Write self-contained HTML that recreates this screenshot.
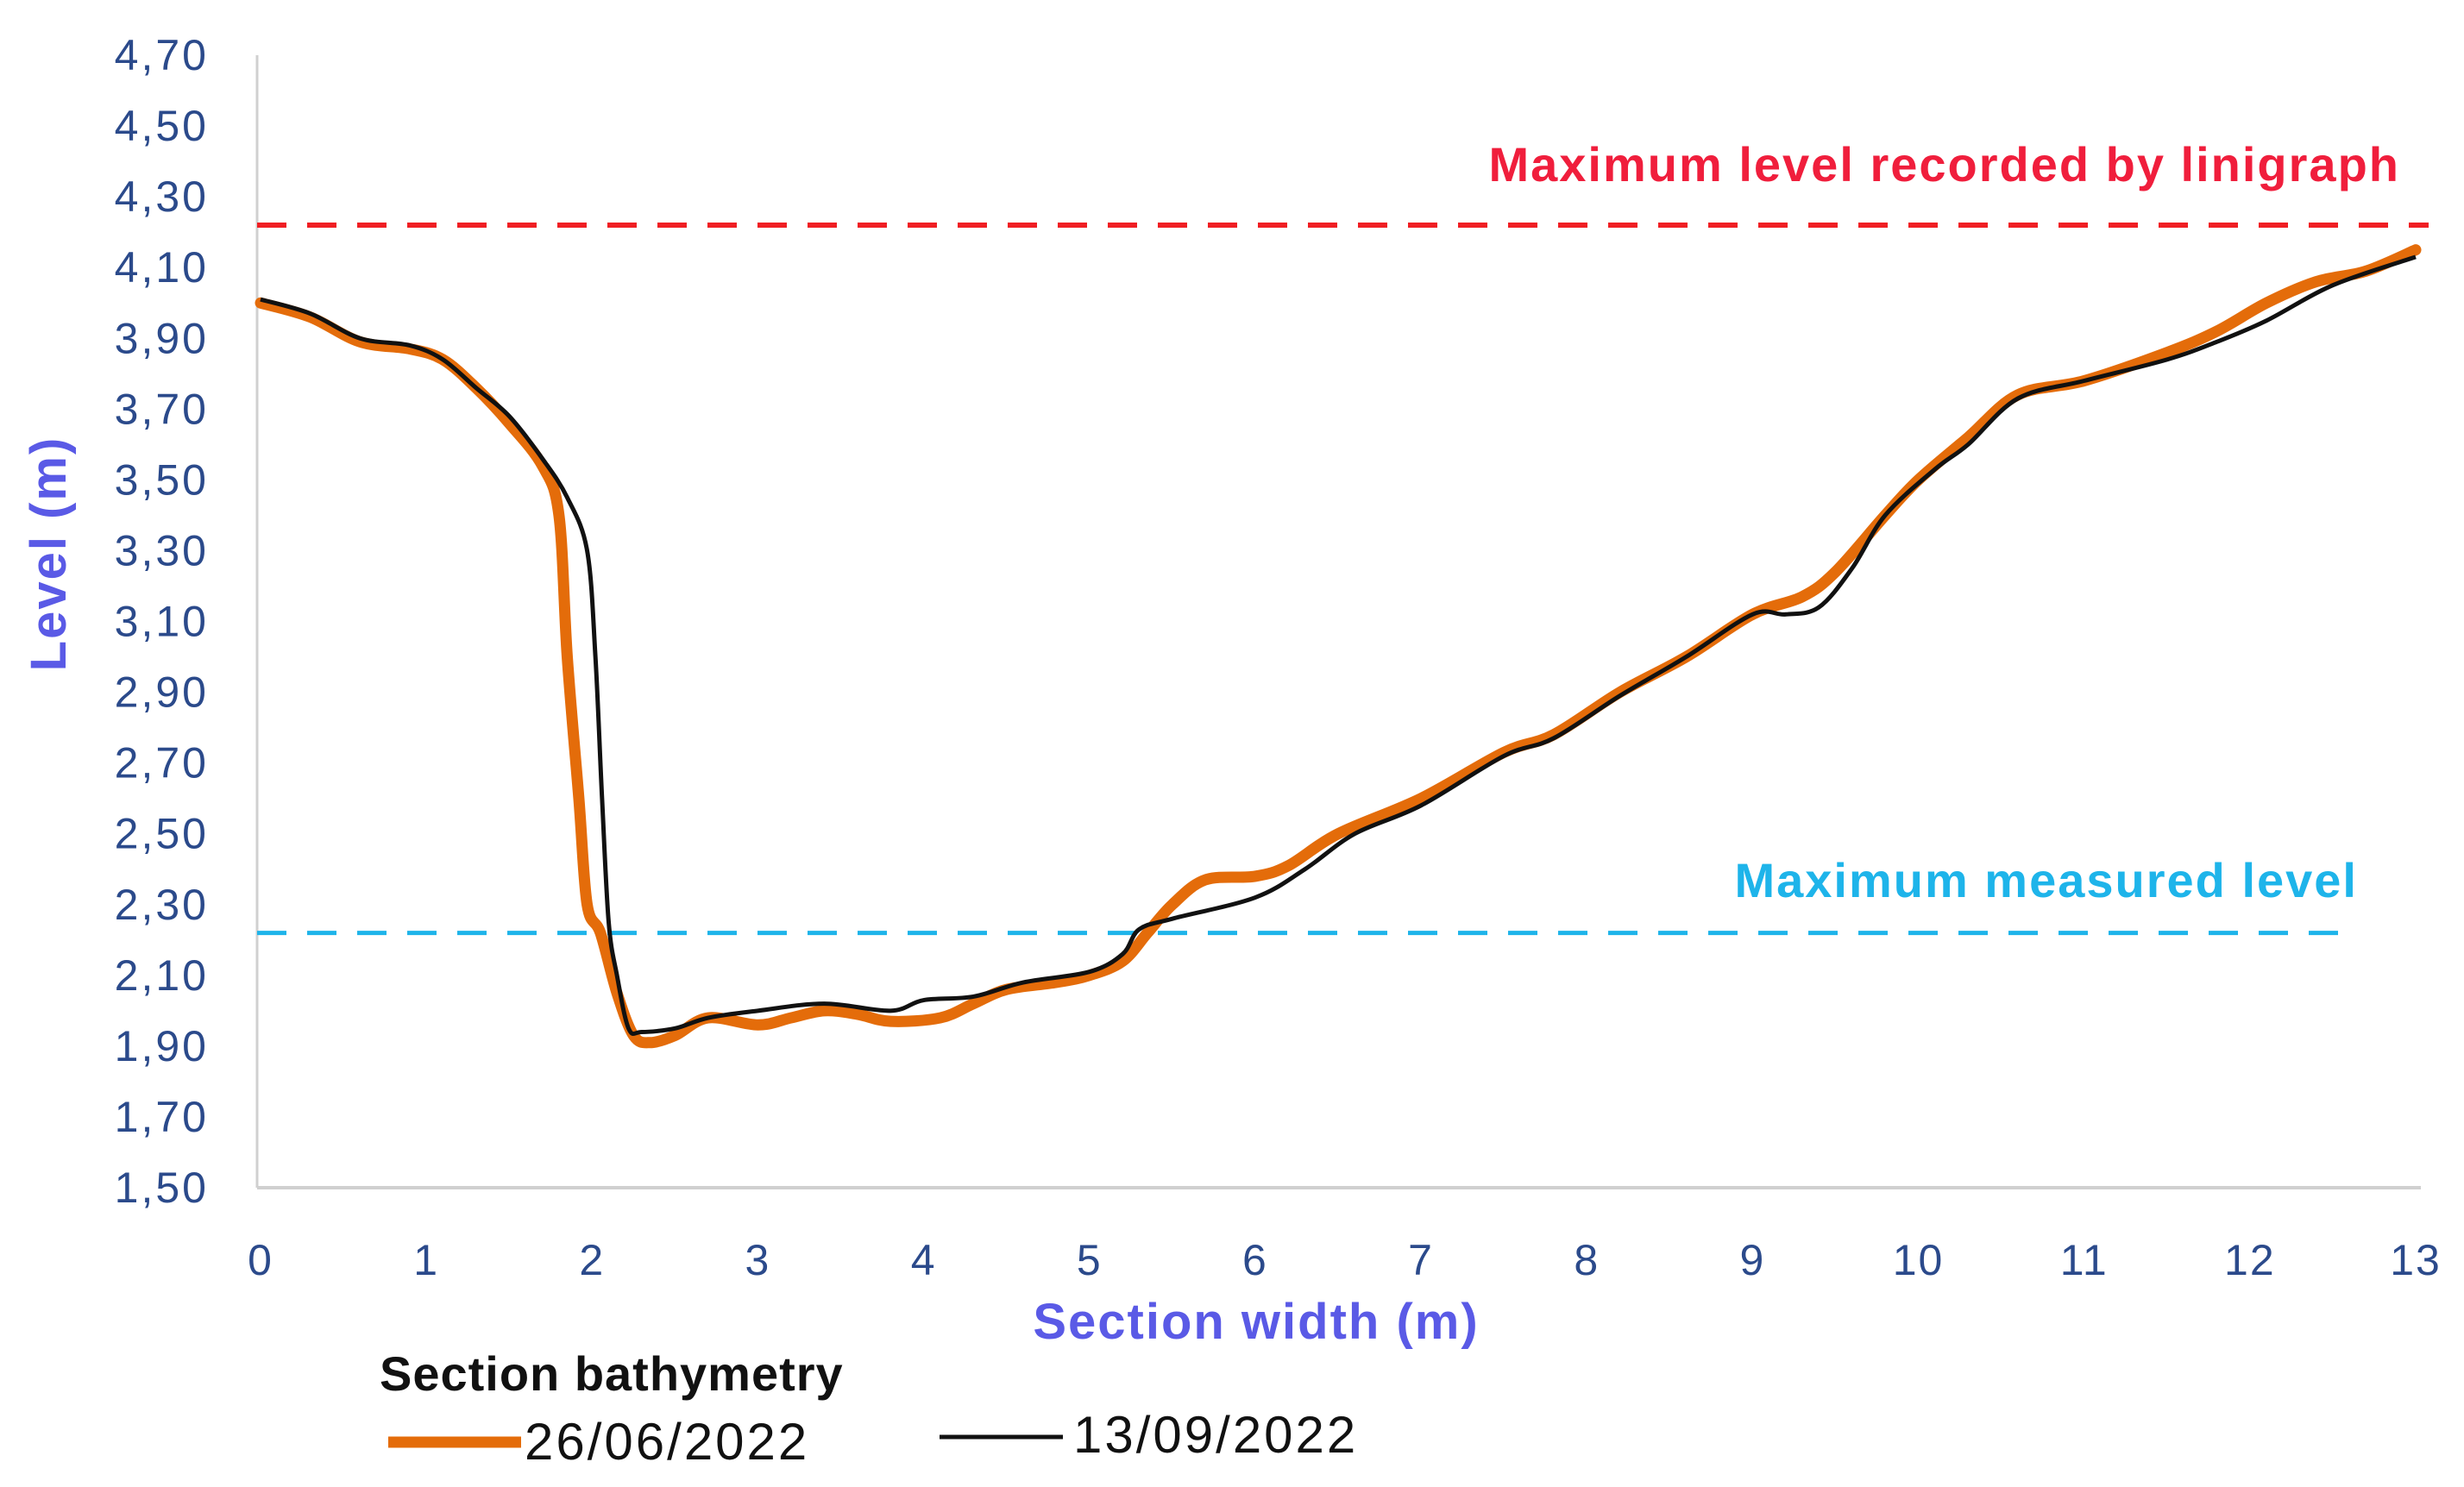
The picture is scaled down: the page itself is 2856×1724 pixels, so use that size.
<!DOCTYPE html>
<html><head><meta charset="utf-8"><style>
html,body{margin:0;padding:0;background:#fff;}
svg{display:block;font-family:"Liberation Sans",sans-serif;}
</style></head><body>
<svg id="chart" width="2856" height="1724" viewBox="0 0 2856 1724"></svg>
<script>
const yTicks=[1.5,1.7,1.9,2.1,2.3,2.5,2.7,2.9,3.1,3.3,3.5,3.7,3.9,4.1,4.3,4.5,4.7];
const yTickLabels=["1,50","1,70","1,90","2,10","2,30","2,50","2,70","2,90","3,10","3,30","3,50","3,70","3,90","4,10","4,30","4,50","4,70"];
const xTicks=[0,1,2,3,4,5,6,7,8,9,10,11,12,13];
const orangeX=[0,0.3,0.6,0.9,1.1,1.3,1.5,1.7,1.8,1.85,1.92,1.97,2.05,2.15,2.25,2.35,2.5,2.7,3.0,3.2,3.4,3.6,3.8,4.1,4.3,4.5,4.8,5.0,5.2,5.35,5.5,5.7,6.0,6.2,6.5,7.0,7.5,7.8,8.2,8.6,9.0,9.3,9.5,9.8,10.0,10.3,10.6,11.0,11.5,11.8,12.1,12.4,12.7,13.0];
const orangeY=[4.00,3.96,3.89,3.87,3.84,3.76,3.66,3.54,3.40,3.0,2.6,2.30,2.22,2.05,1.93,1.91,1.93,1.98,1.96,1.98,2.00,1.99,1.97,1.98,2.02,2.06,2.08,2.10,2.14,2.22,2.30,2.37,2.38,2.41,2.50,2.60,2.73,2.78,2.90,3.00,3.12,3.17,3.24,3.40,3.50,3.62,3.74,3.78,3.86,3.92,4.00,4.06,4.09,4.15];
const blackX=[0,0.3,0.6,0.9,1.1,1.3,1.5,1.7,1.85,1.97,2.02,2.06,2.1,2.15,2.22,2.3,2.5,2.7,3.0,3.4,3.8,4.0,4.3,4.6,5.0,5.2,5.3,5.5,6.0,6.3,6.6,7.0,7.5,7.8,8.2,8.6,9.0,9.2,9.4,9.6,9.8,10.1,10.3,10.6,11.0,11.5,11.8,12.1,12.5,13.0];
const blackY=[4.01,3.97,3.90,3.88,3.84,3.76,3.68,3.56,3.45,3.30,3.0,2.6,2.25,2.10,1.95,1.94,1.95,1.98,2.00,2.02,2.00,2.03,2.04,2.08,2.11,2.16,2.23,2.26,2.32,2.40,2.50,2.58,2.72,2.77,2.89,3.00,3.12,3.12,3.14,3.25,3.40,3.53,3.60,3.73,3.78,3.84,3.89,3.95,4.05,4.13];
const maxLinigraph=4.22, maxMeasured=2.22;

const svg=document.getElementById('chart');
const NS='http://www.w3.org/2000/svg';
const X0=302,X1=2800,Y0=1377,Y1=64;
const sx=v=>X0+(v-0)/13*(X1-X0);
const sy=v=>Y0-(v-1.5)/3.2*(Y0-Y1);
function mk(tag,attrs,text){const e=document.createElementNS(NS,tag);for(const k in attrs)e.setAttribute(k,attrs[k]);if(text!==undefined)e.textContent=text;svg.appendChild(e);return e;}

let e;
e=mk('line',{x1:298,y1:64,x2:298,y2:1377,stroke:'#d0d0d0','stroke-width':3});


e=mk('line',{x1:298,y1:1377,x2:2806,y2:1377,stroke:'#d0d0d0','stroke-width':4});



yTicks.forEach((v,i)=>{
  const t=mk('text',{x:242,y:sy(v)+17,'text-anchor':'end','font-size':50,'letter-spacing':3,fill:'#2b4a8b'},yTickLabels[i]);
  
  
});
xTicks.forEach(v=>{
  const t=mk('text',{x:sx(v),y:1478,'text-anchor':'middle','font-size':50,'letter-spacing':2,fill:'#2b4a8b'},String(v));
  
  
});

e=mk('line',{x1:298,y1:sy(maxLinigraph),x2:2815,y2:sy(maxLinigraph),stroke:'#f01e23','stroke-width':6,'stroke-dasharray':'34 24'});


e=mk('line',{x1:298,y1:sy(maxMeasured),x2:2728,y2:sy(maxMeasured),stroke:'#1eb4ea','stroke-width':5,'stroke-dasharray':'34 24'});



function path(xs,ys){
  const p=xs.map((x,i)=>[sx(x),sy(ys[i])]);
  let d='M'+p[0][0]+','+p[0][1];
  for(let i=0;i<p.length-1;i++){
    const p0=p[i-1]||p[i],p1=p[i],p2=p[i+1],p3=p[i+2]||p[i+1];
    const c1=[p1[0]+(p2[0]-p0[0])/6,p1[1]+(p2[1]-p0[1])/6];
    const c2=[p2[0]-(p3[0]-p1[0])/6,p2[1]-(p3[1]-p1[1])/6];
    d+=' C'+c1[0]+','+c1[1]+' '+c2[0]+','+c2[1]+' '+p2[0]+','+p2[1];
  }
  return d;
}
e=mk('path',{d:path(orangeX,orangeY),fill:'none',stroke:'#e46c0a','stroke-width':13,'stroke-linejoin':'round','stroke-linecap':'round'});


e=mk('path',{d:path(blackX,blackY),fill:'none',stroke:'#111','stroke-width':5,'stroke-linejoin':'round'});



e=mk('text',{x:2782,y:210,'text-anchor':'end','font-size':56,'letter-spacing':2,'font-weight':'bold',fill:'#f01e3c'},'Maximum level recorded by linigraph');


e=mk('text',{x:2733,y:1040,'text-anchor':'end','font-size':56,'letter-spacing':2,'font-weight':'bold',fill:'#1eb4ea'},'Maximum measured level');



e=mk('text',{x:1456,y:1552,'text-anchor':'middle','font-size':58,'letter-spacing':2,'font-weight':'bold',fill:'#5a5ae6'},'Section width (m)');


e=mk('text',{x:0,y:0,'text-anchor':'middle','font-size':58,'letter-spacing':2,'font-weight':'bold',fill:'#5a5ae6',transform:'translate(76,642) rotate(-90)'},'Level (m)');



e=mk('text',{x:440,y:1612,'font-size':56,'letter-spacing':1,'font-weight':'bold',fill:'#111'},'Section bathymetry');


e=mk('line',{x1:450,y1:1672,x2:604,y2:1672,stroke:'#e46c0a','stroke-width':13});


e=mk('text',{x:608,y:1692,'font-size':60,'letter-spacing':3,fill:'#111'},'26/06/2022');


e=mk('line',{x1:1089,y1:1666,x2:1232,y2:1666,stroke:'#111','stroke-width':5});


e=mk('text',{x:1244,y:1684,'font-size':60,'letter-spacing':3,fill:'#111'},'13/09/2022');


</script>
</body></html>
